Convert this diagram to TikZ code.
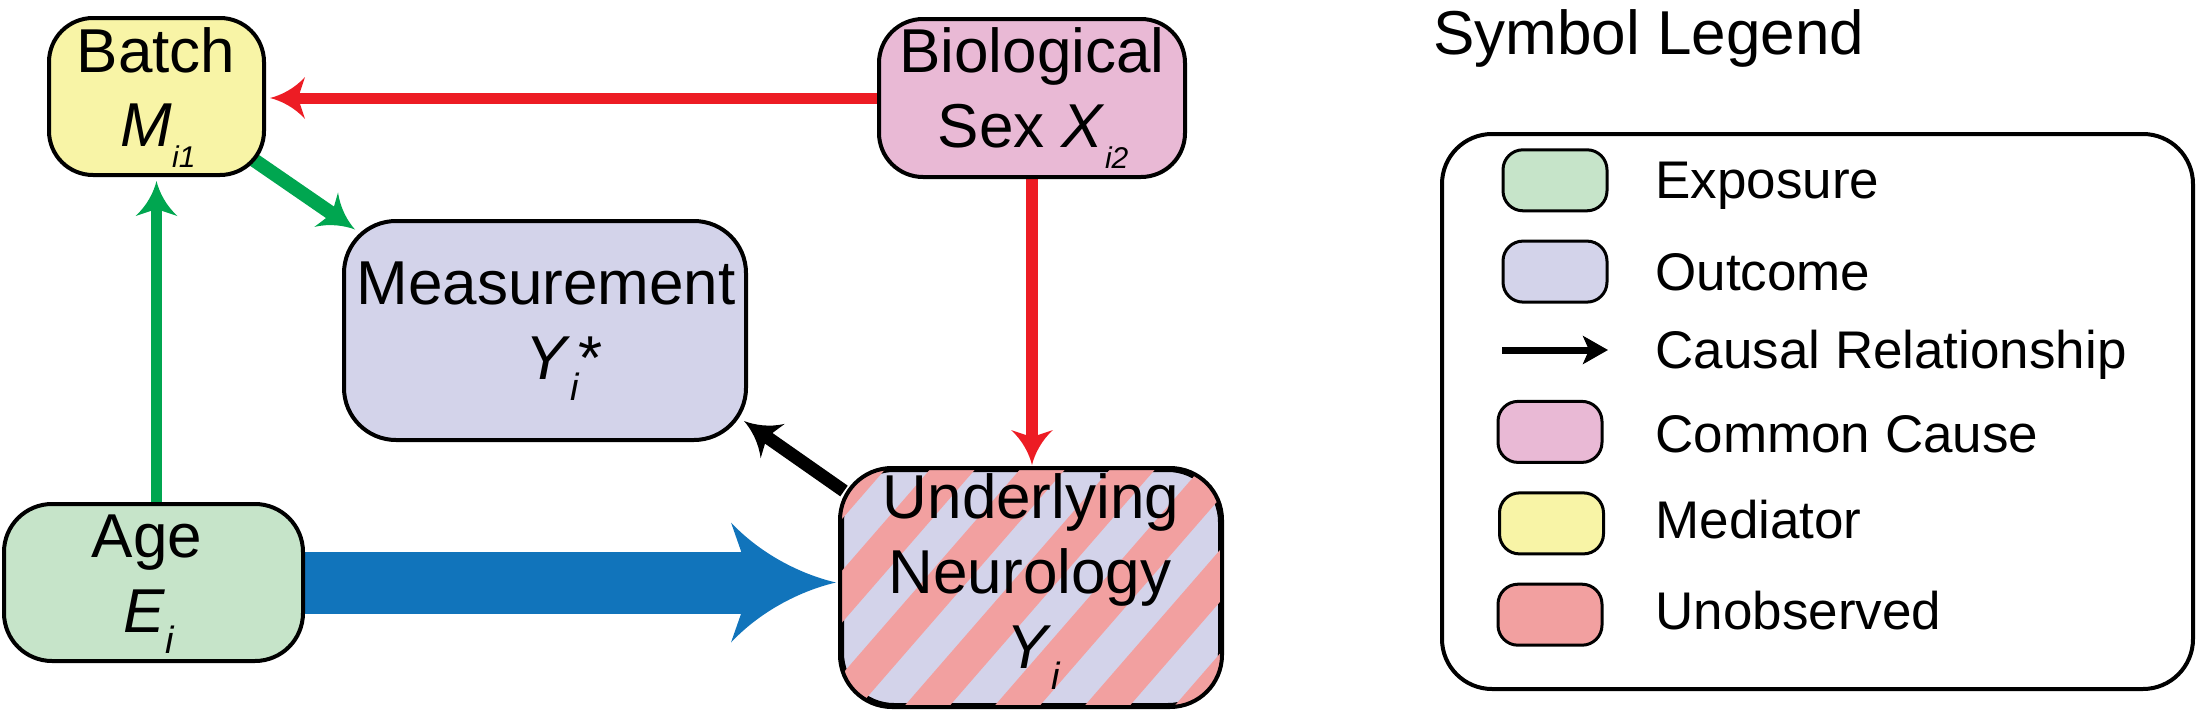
\documentclass[tikz,border=0pt]{standalone}
\usepackage{fontspec}
\setmainfont{Liberation Sans}
\usetikzlibrary{arrows.meta,calc}

\definecolor{yel}{HTML}{F8F4A6}
\definecolor{pnk}{HTML}{E9B9D5}
\definecolor{lav}{HTML}{D3D3EA}
\definecolor{grn}{HTML}{C6E4C9}
\definecolor{sal}{HTML}{F2A0A0}
\definecolor{arred}{HTML}{ED1C24}
\definecolor{argrn}{HTML}{00A650}
\definecolor{arblu}{HTML}{1174BB}

\pgfdeclarearrow{
  name = Swoosh,
  parameters = {\the\pgfarrowlength,\the\pgfarrowwidth},
  setup code = {
    \pgfarrowssettipend{0pt}
    \pgfarrowssetbackend{-\pgfarrowlength}
    \pgfarrowssetlineend{-0.7\pgfarrowlength}
    \pgfarrowssetvisualbackend{-0.8\pgfarrowlength}
    \pgfarrowshullpoint{0pt}{0pt}
    \pgfarrowsupperhullpoint{-\pgfarrowlength}{0.5\pgfarrowwidth}
    \pgfarrowssavethe\pgfarrowlength
    \pgfarrowssavethe\pgfarrowwidth
  },
  drawing code = {
    \pgfpathmoveto{\pgfpointorigin}
    \pgfpathcurveto{\pgfpoint{-0.3\pgfarrowlength}{0.06\pgfarrowwidth}}{\pgfpoint{-0.7\pgfarrowlength}{0.22\pgfarrowwidth}}{\pgfpoint{-\pgfarrowlength}{0.5\pgfarrowwidth}}
    \pgfpathlineto{\pgfpoint{-0.8\pgfarrowlength}{0pt}}
    \pgfpathlineto{\pgfpoint{-\pgfarrowlength}{-0.5\pgfarrowwidth}}
    \pgfpathcurveto{\pgfpoint{-0.7\pgfarrowlength}{-0.22\pgfarrowwidth}}{\pgfpoint{-0.3\pgfarrowlength}{-0.06\pgfarrowwidth}}{\pgfpointorigin}
    \pgfpathclose
    \pgfusepathqfill
  },
  defaults = {length = 10pt, width = 10pt}
}

\newcommand{\subtx}[2][19]{\raisebox{-10.5pt}{\fontsize{#1}{#1}\selectfont\itshape #2}}

\pgfdeclarelayer{bg}
\pgfsetlayers{bg,main}

\begin{document}
\begin{tikzpicture}[x=0.5pt,y=-0.5pt,
  box/.style={draw, line width=2pt, rounded corners=22pt, inner sep=0pt},
  swatch/.style={draw, line width=1.5pt, rounded corners=10pt, inner sep=0pt,
                 minimum width=52pt, minimum height=30.5pt},
  lbl/.style={inner sep=0pt, anchor=base, font=\fontsize{31}{36}\selectfont},
  legtxt/.style={inner sep=0pt, anchor=base west, font=\fontsize{26.5}{30}\selectfont},
  arr/.style={line width=5.5pt, -{Swoosh[length=17.5pt,width=21pt]}},
  stripe/.style={sal, line width=17pt}
]
\useasboundingbox (0,0) rectangle (2197,712);

% ---- main boxes
\node[box, fill=yel, minimum width=107.5pt, minimum height=78.5pt] (batch) at (156.5,96.5) {};
\node[box, fill=pnk, minimum width=153pt, minimum height=79pt] (bio) at (1032,98) {};
\node[box, fill=lav, minimum width=201pt, minimum height=109.5pt, rounded corners=26pt] (meas) at (545,330.5) {};
\node[box, fill=grn, minimum width=149.5pt, minimum height=78.5pt, rounded corners=24pt] (age) at (153.5,582.5) {};
\node[box, fill=lav, minimum width=189pt, minimum height=117.5pt, rounded corners=26pt] (und) at (1031,587.5) {};

% stripes of the unobserved outcome
\begin{scope}
  \clip[rounded corners=26pt] (und.south west) rectangle (und.north east);
  \foreach \k in {-5,...,4}{
    \draw[stripe] ({897.4+90*\k},740) -- ++(260.7,-300);
  }
\end{scope}
\draw[line width=2pt, rounded corners=26pt] (und.south west) rectangle (und.north east);

% ---- box texts
\node[lbl] (tbatch) at (156,72) {Batch};
\node[lbl] (tm) at (158,146) {\textit{M}\subtx[15]{i1}};
\node[lbl] (tbio1) at (1032,72) {Biological};
\node[lbl] (tbio2) at (1033,147) {Sex \textit{X}\subtx[15]{i2}};
\node[lbl] (tmeas1) at (546,304) {Measurement};
\node[lbl] (tmeas2) at (564,379) {\textit{Y}\subtx{i}*};
\node[lbl] (tage1) at (147,557) {Age};
\node[lbl] (tage2) at (149,632) {\textit{E}\subtx{i}};
\node[lbl] (tund1) at (1031,518) {Underlying};
\node[lbl] (tund2) at (1030,593) {Neurology};
\node[lbl] (tund3) at (1033,668) {\textit{Y}\subtx{i}};

% ---- connectors
\begin{pgfonlayer}{bg}
\draw[arr, arred, shorten >=2pt] (bio.west) -- (bio.west -| batch.east);
\draw[arr, arred, line width=6pt, shorten >=1.5pt] (bio.south) -- (bio.south |- und.north);
\draw[arr, argrn, shorten >=2pt] (age.north -| batch.south) -- (batch.south);
\draw[arr, argrn, line width=7pt] ($(batch.south east)+(-12,-17)$) -- ($(meas.north west)+(13,10.5)$);
\draw[arr, black, line width=6.5pt] ($(und.north west)+(4,23)$) -- ($(meas.south east)+(-4,-21)$);
\draw[arblu, line width=31pt, -{Swoosh[length=52.5pt,width=60pt]}, shorten >=2pt] (age.east) -- (age.east -| und.west);
\end{pgfonlayer}

% ---- legend
\node[inner sep=0pt, anchor=base west, font=\fontsize{31}{36}\selectfont] (legtitle) at (1433,54.5) {Symbol Legend};
\node[box, rounded corners=25pt, minimum width=375.5pt, minimum height=277.5pt] (legend) at (1817.5,411.5) {};

\node[swatch, fill=grn] (sw1) at (1555,180.3) {};
\node[swatch, fill=lav] (sw2) at (1555,271.6) {};
\coordinate (la1) at (1502,350);
\coordinate (la2) at (1608,350);
\draw[line width=3.5pt, -{Stealth[length=12.5pt,width=14pt,inset=3pt]}] (la1) -- (la2);
\node[swatch, fill=pnk] (sw4) at (1550,431.9) {};
\node[swatch, fill=yel] (sw5) at (1551.5,523.4) {};
\node[swatch, fill=sal] (sw6) at (1550,614.7) {};

\node[legtxt] (l1) at (1655,198.5) {Exposure};
\node[legtxt] (l2) at (1655,290) {Outcome};
\node[legtxt] (l3) at (1655,368) {Causal Relationship};
\node[legtxt] (l4) at (1655,452) {Common Cause};
\node[legtxt] (l5) at (1655,538) {Mediator};
\node[legtxt] (l6) at (1655,629) {Unobserved};
\end{tikzpicture}
\end{document}
